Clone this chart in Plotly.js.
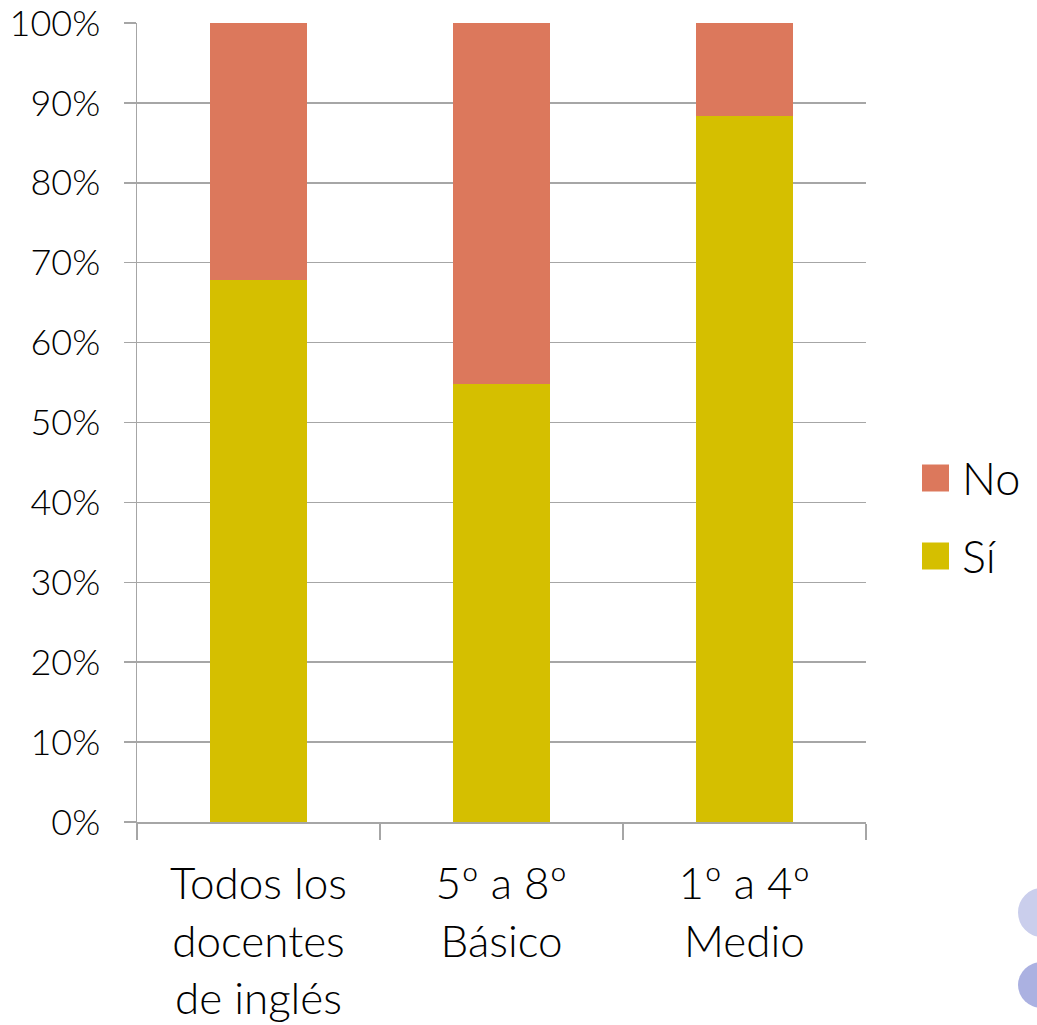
<!DOCTYPE html>
<html>
<head>
<meta charset="utf-8">
<script src="https://cdn.plot.ly/plotly-3.0.1.min.js"></script>
<style>html,body{margin:0;padding:0;background:#fff;}#chart{width:1037px;height:1025px;}</style>
</head>
<body>
<div id="chart"></div>
<script>
const categories = ["Todos los<br>docentes<br>de inglés", "5º a 8º<br>Básico", "1º a 4º<br>Medio"];
const siValues = [67.8, 54.8, 88.4];
const noValues = [32.2, 45.2, 11.6];
const seriesNames = ["Sí", "No"];
const seriesColors = ["#D5BF00", "#DC785C"];
const yTickVals = [0, 10, 20, 30, 40, 50, 60, 70, 80, 90, 100];
const yTickText = yTickVals.map(v => v + "%");

const W = 1037, H = 1025;
const ml = 137, mr = 171, mt = 23, mb = 203;
const pw = W - ml - mr, ph = H - mt - mb;
const px = x => (x - ml) / pw;
const py = y => (H - mb - y) / ph;

const FONT = "Lato, 'DejaVu Sans', sans-serif";

const traces = [
  {type: "bar", name: seriesNames[0], x: categories, y: siValues, marker: {color: seriesColors[0]}, hoverinfo: "skip", showlegend: false},
  {type: "bar", name: seriesNames[1], x: categories, y: noValues, marker: {color: seriesColors[1]}, hoverinfo: "skip", showlegend: false}
];

// manual legend (No on top, Sí below)
const legendOrder = [1, 0];
const legendY = [478, 556];
const shapes = [];
const annotations = [];
legendOrder.forEach((idx, i) => {
  const cy = legendY[i];
  shapes.push({type: "rect", xref: "paper", yref: "paper",
    x0: px(922), x1: px(949), y0: py(cy + 13.5), y1: py(cy - 13.5),
    fillcolor: seriesColors[idx], line: {width: 0}});
  annotations.push({xref: "paper", yref: "paper", x: px(960), y: py(cy),
    xanchor: "left", yanchor: "middle", text: seriesNames[idx], showarrow: false,
    font: {family: FONT, size: 45, weight: 300, color: "#000"}});
});
// decorative circles at bottom right
shapes.push({type: "circle", xref: "paper", yref: "paper", x0: px(1018), x1: px(1066), y0: py(937), y1: py(888), fillcolor: "#CACEEC", line: {width: 0}});
shapes.push({type: "circle", xref: "paper", yref: "paper", x0: px(1018), x1: px(1066), y0: py(1008), y1: py(962), fillcolor: "#ABB1E1", line: {width: 0}});

const layout = {
  width: W, height: H,
  margin: {l: ml, r: mr, t: mt, b: mb, pad: 0},
  paper_bgcolor: "#fff", plot_bgcolor: "#fff",
  barmode: "stack", bargap: 0.6,
  showlegend: false,
  font: {family: FONT, color: "#000"},
  xaxis: {
    type: "category", tickson: "boundaries", ticks: "outside", ticklen: 16, tickwidth: 1.5, tickcolor: "#A6A6A6",
    showline: true, linecolor: "#A6A6A6", linewidth: 1.5, showgrid: false, zeroline: false,
    tickfont: {family: FONT, size: 44, weight: 300, color: "#000"}, ticklabelstandoff: 23,
    ticklabeloverflow: "allow", fixedrange: true
  },
  yaxis: {
    range: [0, 100], tickvals: yTickVals, ticktext: yTickText, ticks: "outside", ticklen: 12, tickwidth: 1.5, tickcolor: "#A6A6A6",
    showline: true, linecolor: "#A6A6A6", linewidth: 1.5, showgrid: true, gridcolor: "#A6A6A6", gridwidth: 1.5, zeroline: false,
    tickfont: {family: FONT, size: 36, weight: 300, color: "#000"}, ticklabelstandoff: 16,
    ticklabeloverflow: "allow", fixedrange: true
  },
  shapes: shapes,
  annotations: annotations
};

Plotly.newPlot("chart", traces, layout, {displayModeBar: false, staticPlot: true});
</script>
</body>
</html>
